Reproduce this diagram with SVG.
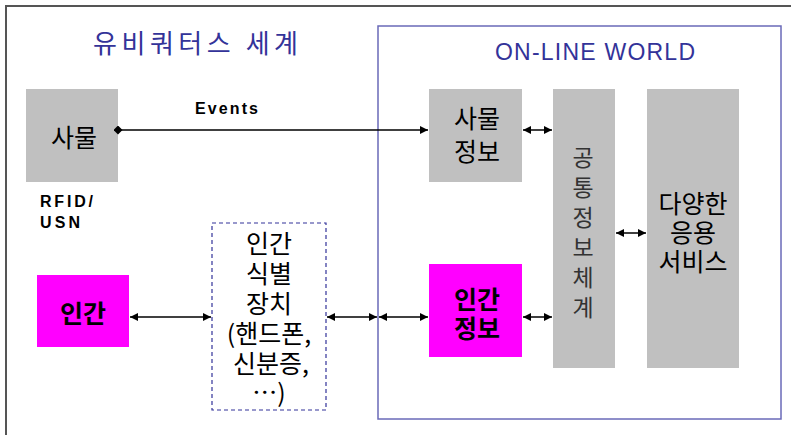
<svg xmlns="http://www.w3.org/2000/svg" width="791" height="435" viewBox="0 0 791 435">
<defs>
<marker id="ah" viewBox="0 0 10 10" refX="10" refY="5" markerWidth="9" markerHeight="8" markerUnits="userSpaceOnUse" orient="auto-start-reverse"><path d="M0,0 L10,5 L0,10 z" fill="#000"/></marker>
<marker id="dm" viewBox="0 0 10 10" refX="5" refY="5" markerWidth="9" markerHeight="9" markerUnits="userSpaceOnUse" orient="auto"><path d="M0,5 L5,0 L10,5 L5,10 z" fill="#000"/></marker>
</defs>
<style>
.kr{font-family:"Noto Sans CJK KR","Liberation Sans",sans-serif;font-size:25px;text-anchor:middle;fill:#000}
.gray{fill:#c0c0c0}
.mag{fill:#ff00ff}
.lbl{font-family:"Liberation Sans",Arial,sans-serif;font-weight:bold;font-size:16px;fill:#000}
.ttl{font-family:"Noto Sans CJK KR","Liberation Sans",sans-serif;font-size:26px;fill:#333399}
.con{stroke:#000;stroke-width:1.5;fill:none}
</style>
<rect x="0" y="0" width="791" height="435" fill="#fff"/>
<rect id="frame" x="6" y="6" width="820" height="460" fill="none" stroke="#555" stroke-width="2"/>
<text class="ttl" x="93" y="53" textLength="205" lengthAdjust="spacing">유비쿼터스 세계</text>
<g id="online">
<rect x="378" y="26" width="403" height="393" fill="none" stroke="#6a6ab8" stroke-width="1.5"/>
<text class="ttl" x="495" y="60" textLength="200" lengthAdjust="spacing" style="font-family:'Liberation Sans',Arial,sans-serif;font-size:23px">ON-LINE WORLD</text>
</g>
<g id="thing">
<rect class="gray" x="26" y="89" width="92" height="93"/>
<text class="kr" x="74" y="147">사물</text>
</g>
<g id="rfid">
<text class="lbl" x="40" y="207" textLength="53" lengthAdjust="spacing">RFID/</text>
<text class="lbl" x="40" y="228" textLength="40" lengthAdjust="spacing">USN</text>
</g>
<g id="thinginfo">
<rect class="gray" x="429" y="89" width="93" height="93"/>
<text class="kr" x="477" y="128">사물</text>
<text class="kr" x="477" y="161">정보</text>
</g>
<g id="common">
<rect class="gray" x="553" y="89" width="62" height="279"/>
<g class="kr" style="fill:#333;font-size:23px">
<text x="583" y="166">공</text>
<text x="583" y="196">통</text>
<text x="583" y="226">정</text>
<text x="583" y="256">보</text>
<text x="583" y="286">체</text>
<text x="583" y="316">계</text>
</g>
</g>
<g id="services">
<rect class="gray" x="647" y="89" width="92" height="279"/>
<text class="kr" x="693" y="213">다양한</text>
<text class="kr" x="693" y="242">응용</text>
<text class="kr" x="693" y="271">서비스</text>
</g>
<g id="human">
<rect class="mag" x="37" y="275" width="92" height="72"/>
<text class="kr" x="83" y="323" style="font-weight:bold">인간</text>
</g>
<g id="device">
<rect x="212" y="223" width="114" height="187" fill="none" stroke="#333399" stroke-width="1.2" stroke-dasharray="4 3"/>
<g class="kr">
<text x="269" y="253">인간</text>
<text x="269" y="283">식별</text>
<text x="269" y="313">장치</text>
<text x="269" y="343">(핸드폰,</text>
<text x="271" y="373">신분증,</text>
<text x="269" y="402">…)</text>
</g>
</g>
<g id="humaninfo">
<rect class="mag" x="429" y="264" width="93" height="93"/>
<text class="kr" x="477" y="309" style="font-weight:bold">인간</text>
<text class="kr" x="477" y="338" style="font-weight:bold">정보</text>
</g>
<g id="connectors">
<line class="con" x1="118" y1="130" x2="428" y2="130" marker-start="url(#dm)" marker-end="url(#ah)"/>
<text class="lbl" x="195" y="114" textLength="63" lengthAdjust="spacing">Events</text>
<line class="con" x1="523" y1="130" x2="552" y2="130" marker-start="url(#ah)" marker-end="url(#ah)"/>
<line class="con" x1="616" y1="233" x2="646" y2="233" marker-start="url(#ah)" marker-end="url(#ah)"/>
<line class="con" x1="130" y1="317" x2="211" y2="317" marker-start="url(#ah)" marker-end="url(#ah)"/>
<line class="con" x1="327" y1="317" x2="377" y2="317" marker-start="url(#ah)" marker-end="url(#ah)"/>
<line class="con" x1="379" y1="317" x2="428" y2="317" marker-start="url(#ah)" marker-end="url(#ah)"/>
<line class="con" x1="523" y1="317" x2="552" y2="317" marker-start="url(#ah)" marker-end="url(#ah)"/>
</g>
</svg>
